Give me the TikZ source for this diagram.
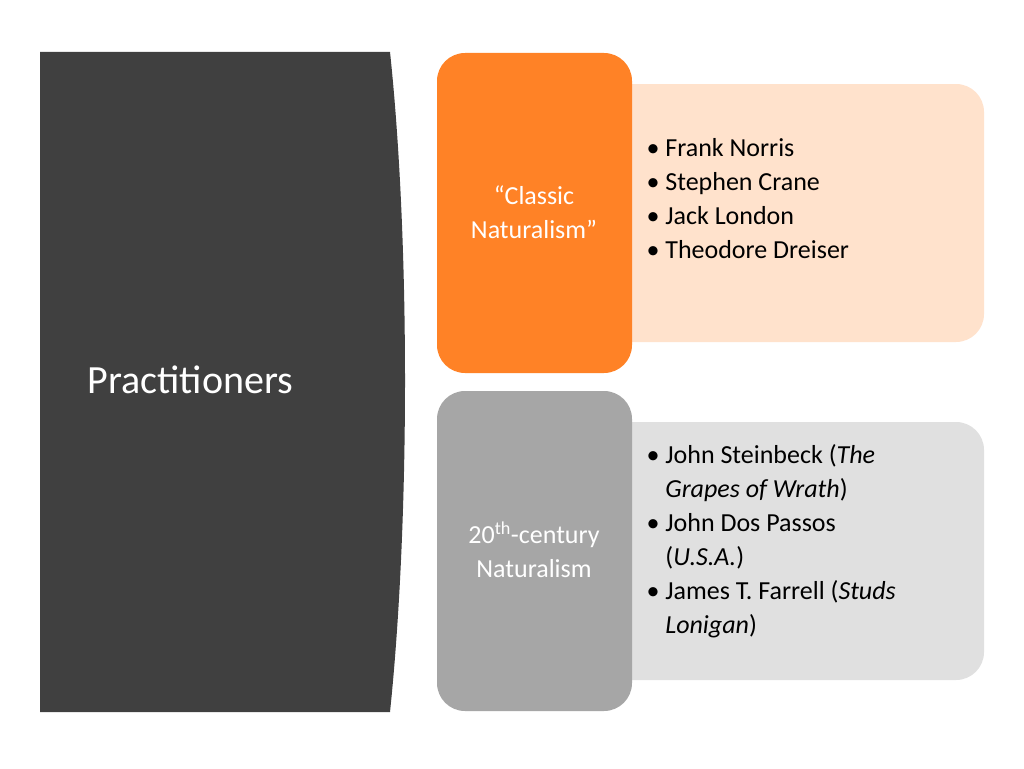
\documentclass[tikz,border=0pt]{standalone}
\usepackage{fontspec}
\setmainfont{Carlito}
\begin{document}
\begin{tikzpicture}[x=1pt,y=-1pt,
  txt/.style={font=\fontsize{26}{34}\selectfont, align=left, anchor=north west},
  ctxt/.style={font=\fontsize{26}{34}\selectfont, align=center, text=white}]
\useasboundingbox (0,0) rectangle (1024,768);
\fill[fill=white] (0,0) rectangle (1024,768);
% left panel
\fill[fill=black!75] (40,52) -- (390,52) .. controls (410,240) and (410,520) .. (390,712) -- (40,712) -- cycle;
\node[font=\fontsize{40}{48}\selectfont, text=white, anchor=west] (prac) at (84,380) {Practitioners};
% top group
\fill[fill=red!15!orange!20!white, rounded corners=28] (600,84) rectangle (984,342);
\fill[fill=orange!85!red!85!white, rounded corners=28] (437,53) rectangle (632,373);
\node[ctxt] (c1) at (534,212) {“Classic\\Naturalism”};
\node[txt] (l1) at (643,135) {\textbullet\ Frank Norris\\\textbullet\ Stephen Crane\\\textbullet\ Jack London\\\textbullet\ Theodore Dreiser};
% bottom group
\fill[fill=black!12, rounded corners=28] (600,422) rectangle (984,680);
\fill[fill=black!35, rounded corners=28] (437,391) rectangle (632,711);
\node[ctxt] (c2) at (534,550) {20\textsuperscript{th}-century\\Naturalism};
\node[txt] (l2) at (643,441) {\textbullet\ John Steinbeck (\textit{The}\\\phantom{\textbullet\ }\textit{Grapes of Wrath})\\\textbullet\ John Dos Passos\\\phantom{\textbullet\ }(\textit{U.S.A.})\\\textbullet\ James T. Farrell (\textit{Studs}\\\phantom{\textbullet\ }\textit{Lonigan})};
\end{tikzpicture}
\end{document}
